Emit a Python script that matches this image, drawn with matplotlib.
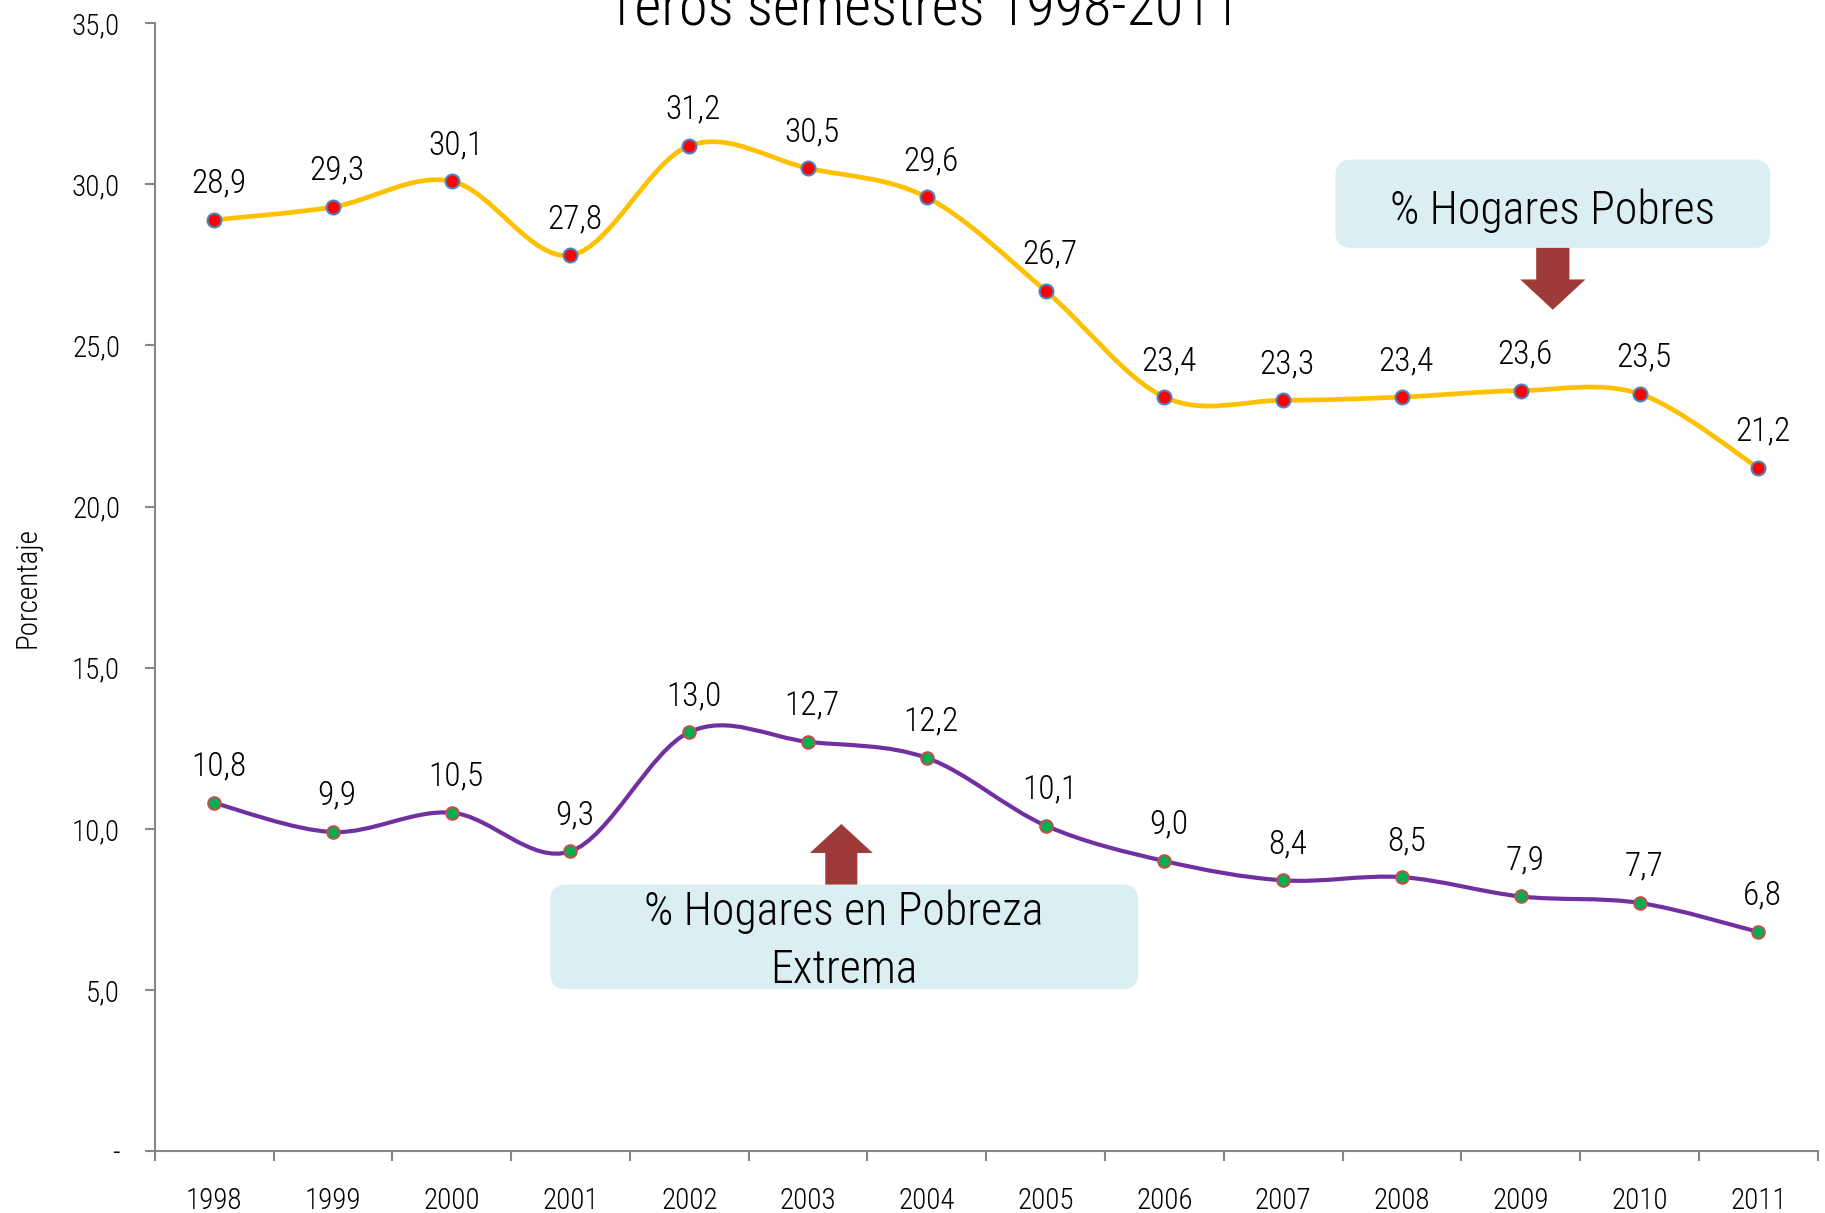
import matplotlib.pyplot as plt
import numpy as np
from matplotlib.path import Path
from matplotlib.patches import PathPatch, FancyBboxPatch, Polygon
from matplotlib.transforms import IdentityTransform

plt.rcParams['font.family'] = ['Roboto Condensed', 'DejaVu Sans']
plt.rcParams['font.weight'] = 'light'

years = ['1998', '1999', '2000', '2001', '2002', '2003', '2004',
         '2005', '2006', '2007', '2008', '2009', '2010', '2011']
pobres = [28.9, 29.3, 30.1, 27.8, 31.2, 30.5, 29.6, 26.7, 23.4, 23.3, 23.4, 23.6, 23.5, 21.2]
extrema = [10.8, 9.9, 10.5, 9.3, 13.0, 12.7, 12.2, 10.1, 9.0, 8.4, 8.5, 7.9, 7.7, 6.8]

title = '1eros semestres 1998-2011'
lbl_pobres = '% Hogares Pobres'
lbl_extrema = '% Hogares en Pobreza\nExtrema'


def smooth_path(xs, ys):
    # Excel-like smoothed line: cubic bezier through every point
    pts = np.column_stack([xs, ys]).astype(float)
    n = len(pts)
    verts = [pts[0]]
    codes = [Path.MOVETO]
    for i in range(n - 1):
        p0 = pts[i - 1] if i > 0 else pts[i]
        p1 = pts[i]
        p2 = pts[i + 1]
        p3 = pts[i + 2] if i + 2 < n else pts[i + 1]
        verts += [p1 + (p2 - p0) / 6.0, p2 - (p3 - p1) / 6.0, p2]
        codes += [Path.CURVE4] * 3
    return Path(verts, codes)


fig = plt.figure(figsize=(18.25, 12.13), dpi=100)
ax = fig.add_axes([0.0848, 0.0511, 0.9112, 0.9297])

x = np.arange(len(years))
ax.set_xlim(-0.5, len(years) - 0.5)
ax.set_ylim(0, 35)

ax.add_patch(PathPatch(smooth_path(x, pobres), fill=False, ec='#FFC000', lw=3.4,
                       capstyle='round', joinstyle='round', zorder=3))
ax.add_patch(PathPatch(smooth_path(x, extrema), fill=False, ec='#7030A0', lw=3.0,
                       capstyle='round', joinstyle='round', zorder=3))
ax.plot(x, pobres, 'o', ms=10, mfc='#FF0000', mec='#4F81BD', mew=1.5, zorder=4)
ax.plot(x, extrema, 'o', ms=9, mfc='#00B050', mec='#C0504D', mew=1.5, zorder=4)

for xi, v in zip(x, pobres):
    ax.annotate(f'{v:.1f}'.replace('.', ','), (xi, v), xytext=(3, 26),
                textcoords='offset points', ha='center', va='center', fontsize=24)
for xi, v in zip(x, extrema):
    ax.annotate(f'{v:.1f}'.replace('.', ','), (xi, v), xytext=(3, 26),
                textcoords='offset points', ha='center', va='center', fontsize=24)

# axes styling
for s in ['top', 'right']:
    ax.spines[s].set_visible(False)
for s in ['left', 'bottom']:
    ax.spines[s].set_color('#868686')
    ax.spines[s].set_linewidth(1.5)

yt = np.arange(0, 36, 5)
ax.set_yticks(yt)
ax.set_yticklabels(['-' if t == 0 else f'{t:.1f}'.replace('.', ',') for t in yt])
ax.tick_params(axis='y', length=7, width=1.5, color='#868686', pad=18, labelsize=21)

ax.set_xticks(x)
ax.set_xticklabels(years)
ax.set_xticks(np.arange(-0.5, len(years), 1), minor=True)
ax.tick_params(axis='x', which='major', length=0, pad=26, labelsize=21)
ax.tick_params(axis='x', which='minor', length=7, width=1.5, color='#868686')

ax.set_ylabel('Porcentaje', fontsize=21, labelpad=22, fontweight='light')

fig.text(0.506, 0.9786, title, ha='center', va='baseline', fontsize=42)


def rounded_box(x0, y0, x1, y1):
    (px0, py0), (px1, py1) = ax.transData.transform([(x0, y0), (x1, y1)])
    box = FancyBboxPatch((px0, py0), px1 - px0, py1 - py0,
                         boxstyle='round,pad=0,rounding_size=16',
                         fc='#DAEEF3', ec='none', transform=IdentityTransform(), zorder=5)
    ax.add_patch(box)


def block_arrow(xc, y_base, y_neck, y_tip, shaft_w, head_w):
    pts = [(xc - shaft_w / 2, y_base), (xc + shaft_w / 2, y_base),
           (xc + shaft_w / 2, y_neck), (xc + head_w / 2, y_neck),
           (xc, y_tip), (xc - head_w / 2, y_neck), (xc - shaft_w / 2, y_neck)]
    ax.add_patch(Polygon(pts, closed=True, fc='#9E3B38', ec='none', zorder=5))


rounded_box(9.44, 28.03, 13.10, 30.77)
ax.text(11.27, 29.17, lbl_pobres, ha='center', va='center', fontsize=33, zorder=6)
block_arrow(11.27, 28.03, 27.05, 26.11, 0.28, 0.55)

rounded_box(2.83, 5.02, 7.78, 8.27)
ax.text(5.30, 6.52, lbl_extrema, ha='center', va='center', fontsize=33,
        linespacing=1.4, zorder=6)
block_arrow(5.28, 8.27, 9.25, 10.15, 0.27, 0.53)

fig.savefig('out.png', dpi=100)
